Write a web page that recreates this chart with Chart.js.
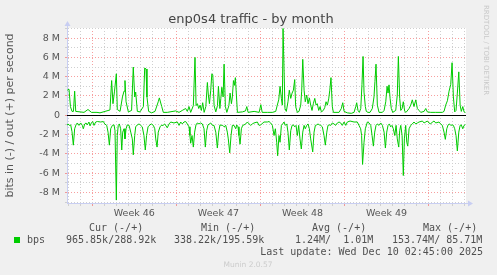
<!DOCTYPE html>
<html>
<head>
<title>enp0s4 traffic - by month</title>
<script src="https://cdn.jsdelivr.net/npm/chart.js@4/dist/chart.umd.min.js"></script>
<style>
  body { margin: 0; background: #f0f0f0; }
  canvas { display: block; }
</style>
</head>
<body>
<canvas id="trafficChart" width="497" height="275"></canvas>
<script>
// times are days since Mon 3 Nov 2025 00:00, values in Mbit/s
const outTimes = [4.92, 5.06, 5.18, 5.31, 5.43, 5.53, 5.62, 5.98, 6.31, 6.64, 6.93, 7.39, 7.64, 8.06, 8.47, 8.61, 8.72, 8.85, 9.00, 9.08,
  9.31, 9.51, 9.64, 9.72, 9.81, 10.0, 10.27, 10.41, 10.53, 10.61, 10.75, 10.97, 11.25, 11.36, 11.47, 11.55, 11.69, 11.94, 12.22, 12.49,
  12.58, 12.78, 12.91, 13.24, 13.94, 14.22, 14.49, 14.77, 14.91, 15.05, 15.19, 15.41, 15.55, 15.64, 15.75, 15.86, 15.97, 16.08, 16.19, 16.31,
  16.45, 16.58, 16.66, 16.75, 16.86, 16.95, 17.03, 17.14, 17.28, 17.42, 17.5, 17.62, 17.7, 17.78, 17.89, 17.97, 18.08, 18.2, 18.37, 18.47,
  18.58, 18.66, 18.75, 18.83, 18.91, 19.0, 19.08, 19.5, 19.75, 19.86, 19.97, 20.47, 20.89, 21.03, 21.14, 21.57, 21.99, 22.27, 22.4, 22.52,
  22.63, 22.74, 22.82, 22.88, 23.04, 23.15, 23.29, 23.4, 23.52, 23.63, 23.74, 23.85, 23.93, 24.07, 24.21, 24.35, 24.43, 24.52, 24.63, 24.73,
  24.85, 24.96, 25.07, 25.18, 25.29, 25.4, 25.52, 25.63, 25.73, 25.85, 25.96, 26.07, 26.23, 26.35, 26.46, 26.57, 26.68, 26.77, 26.87, 26.98,
  27.07, 27.54, 27.73, 27.85, 27.96, 28.23, 28.56, 28.79, 28.93, 29.01, 29.12, 29.23, 29.35, 29.45, 29.54, 29.62, 29.73, 29.81, 29.95, 30.12,
  30.31, 30.45, 30.53, 30.62, 30.73, 30.87, 31.15, 31.29, 31.43, 31.54, 31.62, 31.7, 31.79, 31.89, 32.01, 32.26, 32.39, 32.48, 32.59, 32.68,
  32.79, 32.89, 33.01, 33.12, 33.37, 33.51, 33.64, 33.78, 33.93, 34.06, 34.2, 34.34, 34.62, 34.76, 34.89, 35.17, 35.59, 36.14, 36.28, 36.42,
  36.56, 36.7, 36.84, 36.95, 37.06, 37.17, 37.28, 37.39, 37.51, 37.62, 37.72, 37.84, 37.95, 38.06];
const outValues = [2.6, 2.7, 0.9, 0.4, 0.4, 2.5, 0.4, 0.35, 0.3, 0.6, 0.3, 0.3, 0.25, 0.4, 0.55, 3.6, 1.2, 2.5, 4.3, 0.6,
  0.4, 1.9, 2.5, 3.6, 1.4, 0.35, 0.5, 5.0, 1.9, 2.4, 0.4, 0.35, 0.9, 4.9, 4.8, 1.9, 0.4, 0.25, 0.4, 1.4,
  1.8, 0.9, 0.3, 0.3, 0.45, 0.3, 0.5, 0.7, 0.4, 0.9, 0.3, 1.0, 6.0, 1.0, 1.2, 0.7, 1.05, 0.5, 1.3, 0.3,
  0.9, 3.4, 2.1, 1.2, 2.6, 4.3, 4.2, 1.0, 0.35, 1.0, 3.0, 0.7, 1.75, 2.9, 1.9, 5.3, 0.9, 0.3, 1.0, 2.3,
  1.2, 1.9, 3.6, 3.1, 3.9, 2.0, 0.3, 0.35, 0.45, 0.9, 0.3, 0.4, 0.3, 1.1, 0.3, 0.3, 0.3, 0.4, 1.05, 1.6,
  3.0, 1.75, 1.05, 9.0, 0.7, 0.4, 1.4, 2.6, 1.75, 2.3, 2.6, 3.7, 0.9, 0.3, 0.4, 1.05, 2.5, 5.8, 2.6, 1.4,
  2.1, 1.2, 1.8, 1.05, 0.5, 1.2, 1.75, 1.05, 1.2, 0.5, 0.9, 0.35, 0.5, 0.8, 1.4, 1.05, 1.7, 2.6, 3.9, 0.9,
  0.3, 0.3, 0.7, 1.3, 0.4, 0.25, 0.2, 0.3, 0.9, 1.3, 0.5, 0.3, 0.7, 3.2, 6.1, 2.4, 0.9, 0.4, 0.3, 0.3,
  0.7, 1.9, 3.5, 5.3, 1.05, 0.3, 0.3, 0.5, 1.4, 3.0, 2.3, 3.15, 1.75, 0.7, 0.3, 0.5, 2.1, 6.1, 1.75, 0.5,
  0.7, 1.4, 0.4, 0.3, 0.7, 1.05, 1.6, 0.9, 1.6, 0.7, 0.5, 0.3, 0.4, 0.7, 0.35, 0.3, 0.3, 0.3, 0.4, 1.05,
  1.5, 2.5, 3.2, 5.45, 1.9, 0.35, 0.5, 2.3, 4.5, 1.05, 0.4, 0.9, 0.35, 0.29];

const inTimes = [4.9, 4.98, 5.08, 5.2, 5.31, 5.42, 5.53, 5.64, 5.75, 5.89, 6.03, 6.17, 6.25, 6.37, 6.48, 6.58, 6.72, 6.81, 6.92, 7.03,
  7.14, 7.28, 7.42, 7.7, 7.92, 8.03, 8.2, 8.31, 8.42, 8.53, 8.67, 8.81, 8.89, 9.0, 9.08, 9.16, 9.25, 9.36, 9.45, 9.53,
  9.64, 9.72, 9.81, 9.91, 10.06, 10.2, 10.33, 10.41, 10.53, 10.61, 10.75, 10.89, 11.03, 11.16, 11.3, 11.41, 11.52, 11.64, 11.8, 11.91,
  12.08, 12.2, 12.28, 12.39, 12.49, 12.64, 12.74, 12.89, 13.03, 13.24, 13.39, 13.53, 13.8, 14.08, 14.22, 14.36, 14.49, 14.63, 14.77, 14.91,
  15.05, 15.13, 15.19, 15.3, 15.41, 15.52, 15.63, 15.74, 15.88, 16.02, 16.16, 16.3, 16.41, 16.52, 16.63, 16.74, 16.86, 17.0, 17.13, 17.28,
  17.41, 17.52, 17.63, 17.74, 17.86, 17.97, 18.11, 18.24, 18.32, 18.44, 18.55, 18.66, 18.8, 18.94, 19.02, 19.13, 19.21, 19.3, 19.41, 19.52,
  19.63, 19.77, 19.91, 20.05, 20.19, 20.32, 20.46, 20.74, 20.88, 21.02, 21.29, 21.57, 21.71, 21.85, 21.99, 22.13, 22.24, 22.35, 22.43, 22.54,
  22.63, 22.74, 22.85, 22.96, 23.07, 23.19, 23.29, 23.4, 23.52, 23.63, 23.74, 23.85, 23.96, 24.07, 24.18, 24.29, 24.4, 24.52, 24.63, 24.73,
  24.85, 24.96, 25.07, 25.18, 25.35, 25.46, 25.57, 25.68, 25.79, 25.9, 26.02, 26.15, 26.29, 26.4, 26.52, 26.62, 26.73, 26.85, 26.98, 27.12,
  27.26, 27.4, 27.54, 27.68, 27.81, 27.96, 28.1, 28.23, 28.46, 28.79, 29.06, 29.2, 29.34, 29.42, 29.5, 29.62, 29.73, 29.9, 30.04, 30.18,
  30.29, 30.4, 30.51, 30.62, 30.73, 30.87, 31.01, 31.15, 31.29, 31.4, 31.51, 31.62, 31.73, 31.84, 31.95, 32.06, 32.18, 32.29, 32.39, 32.51,
  32.59, 32.68, 32.79, 32.89, 32.98, 33.09, 33.18, 33.26, 33.37, 33.51, 33.64, 33.78, 33.93, 34.06, 34.2, 34.48, 34.62, 34.76, 34.89, 35.03,
  35.17, 35.31, 35.45, 35.59, 35.86, 36.0, 36.14, 36.28, 36.39, 36.51, 36.62, 36.73, 36.84, 36.95, 37.06, 37.17, 37.28, 37.39, 37.51, 37.62,
  37.72, 37.84, 37.95, 38.06];
const inValues = [-1.05, -0.9, -1.05, -1.0, -1.7, -3.1, -1.4, -1.0, -0.8, -1.05, -0.8, -1.05, -1.4, -0.9, -0.8, -1.0, -0.7, -1.1, -0.8, -0.65,
  -1.05, -0.7, -0.65, -0.7, -0.65, -0.9, -1.05, -1.75, -3.1, -1.4, -1.05, -1.0, -1.6, -8.8, -2.1, -1.05, -0.9, -1.4, -3.6, -1.75,
  -1.4, -2.45, -1.4, -1.0, -1.05, -1.75, -2.45, -4.1, -2.1, -1.2, -1.0, -0.9, -1.05, -1.2, -2.1, -3.6, -2.1, -1.2, -1.0, -0.9,
  -1.05, -1.4, -2.45, -3.3, -1.75, -1.2, -1.05, -1.05, -0.9, -1.3, -0.9, -0.7, -0.8, -0.7, -1.05, -0.7, -0.9, -0.7, -0.65, -0.9,
  -1.2, -2.1, -2.9, -2.1, -3.3, -1.75, -1.0, -0.8, -0.9, -0.8, -0.9, -1.4, -3.3, -1.6, -1.0, -0.9, -0.8, -1.05, -1.05, -1.75,
  -3.4, -1.75, -1.0, -1.05, -1.05, -1.2, -1.05, -1.75, -2.45, -3.9, -2.1, -1.05, -1.05, -1.4, -1.0, -1.2, -2.1, -3.0, -1.4, -1.05,
  -1.0, -0.9, -0.7, -0.9, -1.05, -0.9, -0.8, -0.7, -1.05, -1.0, -0.7, -0.7, -0.65, -0.8, -1.05, -2.1, -1.4, -2.8, -4.2, -2.1,
  -2.8, -1.05, -0.9, -0.7, -1.05, -0.9, -1.75, -3.6, -1.6, -1.05, -1.0, -1.2, -1.05, -2.1, -1.05, -2.45, -3.5, -1.75, -1.05, -1.4,
  -1.05, -0.9, -1.4, -2.45, -3.8, -1.75, -1.05, -1.0, -0.9, -1.0, -1.05, -1.2, -2.1, -3.1, -1.75, -1.05, -1.0, -1.05, -0.8, -0.9,
  -1.05, -0.8, -0.7, -0.8, -1.05, -0.7, -1.05, -0.7, -0.6, -0.7, -0.7, -1.05, -1.4, -2.1, -5.1, -2.8, -1.4, -0.7, -0.8, -1.05,
  -2.1, -3.2, -1.75, -1.05, -0.9, -1.05, -0.8, -1.05, -1.75, -3.4, -1.75, -1.05, -0.9, -1.2, -1.05, -1.4, -2.1, -1.05, -2.45, -3.3,
  -1.6, -1.05, -2.1, -6.25, -2.45, -1.05, -2.8, -3.2, -1.4, -1.05, -0.9, -0.7, -0.9, -0.8, -0.7, -0.6, -0.8, -0.7, -0.6, -0.8,
  -0.9, -0.7, -0.6, -0.8, -0.7, -0.9, -1.05, -1.75, -2.5, -1.4, -1.0, -0.9, -1.05, -1.0, -1.05, -1.4, -2.1, -3.7, -1.75, -1.05,
  -1.0, -1.4, -1.05, -0.97];

const firstWeek = 45; // ISO week that starts at day 0
const legendHeaders = ['Cur (-/+)', 'Min (-/+)', 'Avg (-/+)', 'Max (-/+)'];
const legendValues = ['965.85k/288.92k', '338.22k/195.59k', '1.24M/  1.01M', '153.74M/ 85.71M'];
const lastUpdate = 'Last update: Wed Dec 10 02:45:00 2025';

const sans = 'DejaVu Sans, sans-serif';
const mono = 'DejaVu Sans Mono, monospace';
const green = '#00cc00';
const axisColor = '#c8cef2';

const toPoints = (xs, ys) => xs.map((x, i) => ({ x: x, y: ys[i] }));

const muninDecor = {
  id: 'muninDecor',
  beforeDraw(chart) {
    const { ctx, chartArea: a } = chart;
    ctx.save();
    ctx.fillStyle = '#f0f0f0';
    ctx.fillRect(0, 0, chart.width, chart.height);
    ctx.fillStyle = '#ffffff';
    ctx.fillRect(a.left, a.top, a.right - a.left, a.bottom - a.top);
    ctx.restore();
  },
  beforeDatasetsDraw(chart) {
    const { ctx, chartArea: a, scales } = chart;
    const y0 = Math.round(scales.y.getPixelForValue(0)) + 0.5;
    ctx.save();
    ctx.strokeStyle = '#000000';
    ctx.lineWidth = 1;
    ctx.beginPath();
    ctx.moveTo(a.left, y0);
    ctx.lineTo(a.right, y0);
    ctx.stroke();
    ctx.restore();
  },
  afterDraw(chart) {
    const { ctx, chartArea: a } = chart;
    ctx.save();
    // axis arrows
    ctx.fillStyle = axisColor;
    ctx.strokeStyle = axisColor;
    ctx.beginPath();
    ctx.moveTo(a.left + 0.5, a.top);
    ctx.lineTo(a.left + 0.5, a.top - 3);
    ctx.stroke();
    ctx.beginPath();
    ctx.moveTo(a.left - 2.5, a.top - 2);
    ctx.lineTo(a.left + 3.5, a.top - 2);
    ctx.lineTo(a.left + 0.5, a.top - 7);
    ctx.closePath();
    ctx.fill();
    ctx.beginPath();
    ctx.moveTo(a.right, a.bottom + 0.5);
    ctx.lineTo(a.right + 2, a.bottom + 0.5);
    ctx.stroke();
    ctx.beginPath();
    ctx.moveTo(a.right + 2, a.bottom - 2.5);
    ctx.lineTo(a.right + 2, a.bottom + 3.5);
    ctx.lineTo(a.right + 7, a.bottom + 0.5);
    ctx.closePath();
    ctx.fill();

    // title
    ctx.fillStyle = '#444444';
    ctx.font = '13px ' + sans;
    ctx.textAlign = 'center';
    ctx.textBaseline = 'alphabetic';
    ctx.fillText('enp0s4 traffic - by month', 251, 23);

    // legend
    ctx.font = '10px ' + mono;
    ctx.textAlign = 'left';
    ctx.fillStyle = '#505050';
    const headX = [89, 201, 312, 423];
    const valX = [66, 174, 295, 392];
    legendHeaders.forEach((t, i) => ctx.fillText(t, headX[i], 231));
    legendValues.forEach((t, i) => ctx.fillText(t, valX[i], 243));
    ctx.fillText('bps', 27, 243);
    ctx.textAlign = 'right';
    ctx.fillText(lastUpdate, 483, 254.5);
    ctx.fillStyle = green;
    ctx.fillRect(14, 237, 6, 6);

    // footer and watermark
    ctx.fillStyle = '#cccccc';
    ctx.font = '7.5px ' + sans;
    ctx.textAlign = 'center';
    ctx.fillText('Munin 2.0.57', 248, 267);
    ctx.translate(483.5, 5);
    ctx.rotate(Math.PI / 2);
    ctx.font = '7px ' + sans;
    ctx.textAlign = 'left';
    ctx.fillStyle = '#c8c8c8';
    ctx.fillText('RRDTOOL / TOBI OETIKER', 0, 0);
    ctx.restore();
  }
};

const ctx = document.getElementById('trafficChart').getContext('2d');
new Chart(ctx, {
  type: 'line',
  plugins: [muninDecor],
  data: {
    datasets: [
      {
        label: 'out',
        data: toPoints(outTimes, outValues),
        borderColor: green,
        borderWidth: 1,
        pointRadius: 0,
        tension: 0,
        fill: false
      },
      {
        label: 'in',
        data: toPoints(inTimes, inValues),
        borderColor: green,
        borderWidth: 1,
        pointRadius: 0,
        tension: 0,
        fill: false
      }
    ]
  },
  options: {
    responsive: false,
    animation: false,
    events: [],
    layout: { padding: { top: 28, right: 31, bottom: 0, left: 0 } },
    plugins: {
      legend: { display: false },
      title: { display: false },
      tooltip: { enabled: false }
    },
    scales: {
      x: {
        type: 'linear',
        min: 4.893,
        max: 38.11,
        afterBuildTicks(scale) {
          const ticks = [];
          for (let v = 5; v <= 38; v += 0.5) ticks.push({ value: v });
          scale.ticks = ticks;
        },
        afterFit(scale) { scale.height = 72; },
        grid: {
          color(c) {
            const v = c.tick ? c.tick.value : 0;
            if (v % 1 !== 0) return 'rgba(0,0,0,0)';
            return v % 7 === 0 ? 'rgba(240,80,80,0.55)' : '#cfcfcf';
          },
          lineWidth: 1,
          tickLength: 3
        },
        border: { color: axisColor, dash: [1, 2] },
        ticks: {
          autoSkip: false,
          maxRotation: 0,
          padding: 2,
          color: '#555555',
          font: { family: sans, size: 9.5 },
          callback(v) {
            return v % 7 === 3.5 ? 'Week ' + (firstWeek + Math.floor(v / 7)) : '';
          }
        }
      },
      y: {
        min: -9.1,
        max: 9.05,
        afterBuildTicks(scale) {
          const ticks = [];
          for (let v = -9; v <= 9; v++) ticks.push({ value: v });
          scale.ticks = ticks;
        },
        afterFit(scale) { scale.width = 67; },
        grid: {
          color(c) {
            const v = c.tick ? c.tick.value : 0;
            return v % 2 === 0 ? 'rgba(240,80,80,0.55)' : '#cfcfcf';
          },
          lineWidth: 1,
          tickLength: 2
        },
        border: { color: axisColor, dash: [1, 2] },
        title: {
          display: true,
          text: 'bits in (-) / out (+) per second',
          color: '#555555',
          font: { family: sans, size: 11 },
          padding: { top: 4, bottom: 0 }
        },
        ticks: {
          autoSkip: false,
          padding: 5,
          color: '#555555',
          font: { family: sans, size: 9.5 },
          callback(v) {
            if (v % 2 !== 0) return '';
            return v === 0 ? '0' : v + ' M';
          }
        }
      }
    }
  }
});
</script>
</body>
</html>
